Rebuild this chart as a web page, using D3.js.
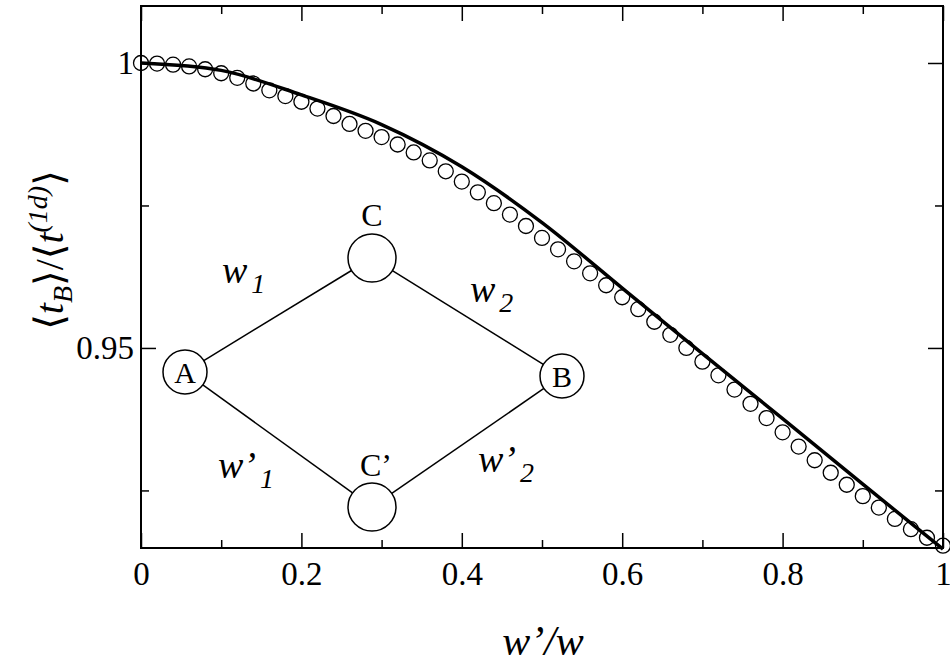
<!DOCTYPE html>
<html><head><meta charset="utf-8">
<script src="https://cdn.jsdelivr.net/npm/d3@7"></script>
<style>
body{margin:0;background:#fff}
text{font-family:"Liberation Serif","DejaVu Serif",serif;fill:#000}
</style></head>
<body><svg width="950" height="666"></svg>
<script>
const circleX = d3.range(0, 51).map(i => i / 50);
const circleY = [1.0000,0.9999,0.9997,0.9994,0.9989,0.9982,0.9974,0.9964,0.9952,0.9942,
  0.9932,0.9920,0.9907,0.9893,0.9881,0.9870,0.9857,0.9843,0.9829,0.9810,
  0.9792,0.9773,0.9754,0.9734,0.9714,0.9693,0.9673,0.9652,0.9631,0.9610,
  0.9589,0.9568,0.9546,0.9523,0.9500,0.9476,0.9452,0.9427,0.9402,0.9377,
  0.9352,0.9327,0.9303,0.9281,0.9260,0.9240,0.9220,0.9200,0.9182,0.9167,0.9153];
const lineX = [0,0.1,0.2,0.3,0.4,0.5,0.6,0.7,0.8,0.9,1];
const lineY = [1.0,0.9987,0.9944,0.9892,0.9818,0.9720,0.9605,0.9490,0.9376,0.9261,0.9147];
const xTicks = [0,0.2,0.4,0.6,0.8,1];
const xMinor = [0.1,0.3,0.5,0.7,0.9];
const yTicks = [0.95,1];
const yMinor = [0.925,0.975];

const margin = {left:141, right:7, top:6, bottom:118};
const svg = d3.select('svg');
const W = 950, H = 666;
const iw = W - margin.left - margin.right, ih = H - margin.top - margin.bottom;
const g = svg.append('g').attr('transform', `translate(${margin.left},${margin.top})`);

const x = d3.scaleLinear().domain([0,1]).range([0, iw]);
const y = d3.scaleLinear().domain([0.9149,1.01]).range([ih, 0]);

function styleAxis(sel, fs){
  sel.select('.domain').remove();
  sel.selectAll('line').attr('stroke','#000').attr('stroke-width',1.5);
  sel.selectAll('text').style('font-size', fs+'px');
}
// major/minor ticks on all four sides
g.append('g').attr('transform',`translate(0,${ih})`)
  .call(d3.axisBottom(x).tickValues(xTicks).tickSize(-15).tickPadding(14).tickFormat(d3.format('')))
  .call(s=>styleAxis(s,33));
g.append('g').attr('transform',`translate(0,${ih})`)
  .call(d3.axisBottom(x).tickValues(xMinor).tickSize(-8).tickFormat(''))
  .call(s=>styleAxis(s,33));
g.append('g').call(d3.axisTop(x).tickValues(xTicks).tickSize(-15).tickFormat('')).call(s=>styleAxis(s,33));
g.append('g').call(d3.axisTop(x).tickValues(xMinor).tickSize(-8).tickFormat('')).call(s=>styleAxis(s,33));
g.append('g').call(d3.axisLeft(y).tickValues(yTicks).tickSize(-15).tickPadding(7).tickFormat(d3.format('')))
  .call(s=>styleAxis(s,33));
g.append('g').call(d3.axisLeft(y).tickValues(yMinor).tickSize(-8).tickFormat('')).call(s=>styleAxis(s,33));
g.append('g').attr('transform',`translate(${iw},0)`).call(d3.axisRight(y).tickValues(yTicks).tickSize(-15).tickFormat('')).call(s=>styleAxis(s,33));
g.append('g').attr('transform',`translate(${iw},0)`).call(d3.axisRight(y).tickValues(yMinor).tickSize(-8).tickFormat('')).call(s=>styleAxis(s,33));

g.append('rect').attr('width',iw).attr('height',ih).attr('fill','none').attr('stroke','#000').attr('stroke-width',2);

// theory line
g.append('path').datum(lineX.map((d,i)=>[d,lineY[i]]))
  .attr('fill','none').attr('stroke','#000').attr('stroke-width',3.5)
  .attr('d', d3.line().x(d=>x(d[0])).y(d=>y(d[1])).curve(d3.curveMonotoneX));

// simulation circles
g.selectAll('circle.pt').data(circleX.map((d,i)=>[d,circleY[i]])).join('circle')
  .attr('class','pt').attr('cx',d=>x(d[0])).attr('cy',d=>y(d[1])).attr('r',7.5)
  .attr('fill','none').attr('stroke','#000').attr('stroke-width',1.3);

// axis labels
svg.append('text').attr('x',543).attr('y',655).attr('text-anchor','middle')
  .style('font-size','42px').style('font-style','italic').text("w’/w");
const yl = svg.append('text').attr('transform','translate(63,250) rotate(-90)').attr('text-anchor','middle')
  .style('font-size','40px');
yl.append('tspan').text('⟨');
yl.append('tspan').style('font-style','italic').text('t');
yl.append('tspan').style('font-style','italic').style('font-size','28px').attr('dy',9).text('B');
yl.append('tspan').attr('dy',-9).text('⟩/⟨');
yl.append('tspan').style('font-style','italic').text('t');
yl.append('tspan').style('font-style','italic').style('font-size','28px').attr('dy',-16).text('(1d)');
yl.append('tspan').attr('dy',16).text('⟩');

// inset network diagram
const nodes = [
  {id:'A', cx:185, cy:372, r:22, label:'A', lx:185, ly:383, fs:30},
  {id:'C', cx:372, cy:258, r:24, label:'C', lx:372, ly:226, fs:32},
  {id:'B', cx:562, cy:376, r:22, label:'B', lx:562, ly:387, fs:30},
  {id:'Cp', cx:372, cy:507, r:24, label:'C’', lx:376, ly:476, fs:32}
];
const edges = [['A','C'],['C','B'],['A','Cp'],['Cp','B']];
const nm = Object.fromEntries(nodes.map(n=>[n.id,n]));
edges.forEach(([a,b])=>{
  const p=nm[a], q=nm[b], dx=q.cx-p.cx, dy=q.cy-p.cy, L=Math.hypot(dx,dy);
  svg.append('line').attr('x1',p.cx+dx/L*p.r).attr('y1',p.cy+dy/L*p.r)
    .attr('x2',q.cx-dx/L*q.r).attr('y2',q.cy-dy/L*q.r).attr('stroke','#000').attr('stroke-width',1.5);
});
nodes.forEach(n=>{
  svg.append('circle').attr('cx',n.cx).attr('cy',n.cy).attr('r',n.r).attr('fill','#fff').attr('stroke','#000').attr('stroke-width',1.5);
  svg.append('text').attr('x',n.lx).attr('y',n.ly).attr('text-anchor','middle').style('font-size',n.fs+'px').text(n.label);
});
const wl = [
  {x:222, y:283, t:'w', s:'1'},
  {x:470, y:302, t:'w', s:'2'},
  {x:218, y:478, t:'w’', s:'1'},
  {x:478, y:472, t:'w’', s:'2'}
];
wl.forEach(d=>{
  const t = svg.append('text').attr('x',d.x).attr('y',d.y).style('font-size','38px').style('font-style','italic');
  t.append('tspan').text(d.t);
  t.append('tspan').attr('dy',10).style('font-size','28px').attr('dx',4).text(d.s);
});
</script></body></html>
